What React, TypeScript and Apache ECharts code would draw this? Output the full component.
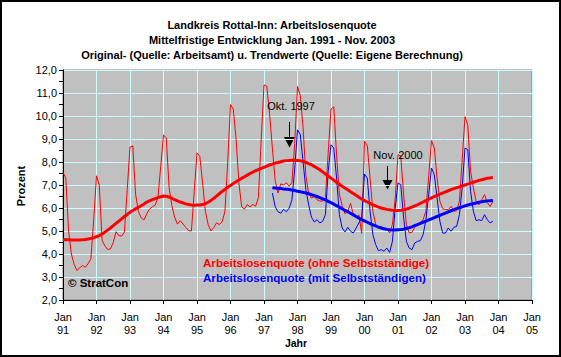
import React, { useEffect, useRef } from 'react';
import * as echarts from 'echarts';

// Monthly values, Jan 1991 .. Nov 2003 (ohne Selbstständige)
const redMonthly = [
  7.55, 7.3, 5.0, 4.0, 3.55, 3.28, 3.4, 3.5, 3.42, 3.58, 3.8, 5.5,
  7.4, 7.0, 4.6, 4.35, 4.2, 4.22, 4.5, 4.97, 4.8, 4.78, 4.95, 6.8,
  8.65, 8.7, 6.6, 5.85, 5.58, 5.48, 5.75, 5.95, 6.05, 6.12, 6.45, 7.8,
  9.17, 9.05, 6.9, 6.1, 5.6, 5.3, 5.45, 5.3, 5.15, 5.02, 5.0, 6.7,
  8.4, 8.25, 7.1, 5.86, 5.28, 5.0, 5.15, 5.35, 5.28, 5.4, 5.85, 8.0,
  10.5, 10.3, 9.0, 7.1, 6.05, 5.95, 6.15, 6.05, 6.15, 6.08, 6.45, 9.0,
  11.35, 11.3, 10.1, 8.6, 7.2, 6.65, 7.05, 7.0, 7.1, 6.95, 7.1, 8.8,
  11.28, 10.9, 9.5, 7.4, 6.65, 6.43, 6.5, 6.36, 6.3, 6.3, 6.45, 8.4,
  10.3, 10.4, 8.3, 6.6, 6.1, 5.75, 5.86, 6.2, 5.72, 5.57, 5.7, 4.9,
  8.9, 8.72, 7.3, 5.86, 5.28, 5.13, 5.2, 5.06, 5.1, 4.92, 5.28, 6.4,
  8.32, 8.25, 6.6, 5.28, 4.92, 4.94, 5.16, 5.28, 5.35, 5.5, 5.86, 7.4,
  8.93, 8.61, 7.3, 6.29, 5.97, 5.93, 5.93, 6.07, 5.86, 5.88, 6.29, 8.1,
  9.97, 9.6, 7.6, 6.87, 6.29, 6.14, 6.36, 6.58, 6.22, 6.07, 6.29,
];

// Trend, Jan 1991 .. Nov 2003 (ohne Selbstständige)
const redTrend = [
  4.63, 4.62, 4.62, 4.61, 4.61, 4.61, 4.61, 4.62, 4.63, 4.65, 4.68, 4.71,
  4.75, 4.8, 4.87, 4.95, 5.04, 5.13, 5.23, 5.33, 5.43, 5.53, 5.63, 5.72,
  5.81, 5.89, 5.96, 6.03, 6.1, 6.17, 6.26, 6.31, 6.36, 6.41, 6.45, 6.49,
  6.52, 6.51, 6.48, 6.42, 6.36, 6.31, 6.26, 6.22, 6.18, 6.15, 6.13, 6.12,
  6.13, 6.13, 6.15, 6.19, 6.25, 6.33, 6.42, 6.52, 6.62, 6.72, 6.81, 6.9,
  6.98, 7.06, 7.14, 7.22, 7.29, 7.36, 7.43, 7.5, 7.56, 7.62, 7.67, 7.72,
  7.77, 7.82, 7.87, 7.91, 7.95, 7.98, 8.01, 8.04, 8.06, 8.07, 8.08, 8.08,
  8.07, 8.05, 8.02, 7.98, 7.93, 7.88, 7.81, 7.74, 7.66, 7.57, 7.48, 7.39,
  7.3, 7.21, 7.12, 7.03, 6.95, 6.87, 6.79, 6.71, 6.63, 6.55, 6.47, 6.39,
  6.32, 6.26, 6.2, 6.14, 6.09, 6.04, 6.0, 5.97, 5.94, 5.92, 5.9, 5.89,
  5.89, 5.9, 5.92, 5.95, 5.99, 6.04, 6.09, 6.14, 6.2, 6.26, 6.32, 6.38,
  6.44, 6.5, 6.55, 6.6, 6.65, 6.7, 6.75, 6.8, 6.84, 6.88, 6.92, 6.96,
  7.0, 7.04, 7.08, 7.12, 7.16, 7.2, 7.23, 7.26, 7.29, 7.31, 7.33,
];

// Blue series start in Apr 1997 (month index 75 from Jan 1991)
const blueStartMonth = 75;

const blueMonthly = [
  6.65, 6.06, 5.84, 5.77, 5.94, 5.84, 5.99, 6.35, 7.7,
  9.4, 9.2, 8.0, 6.8, 6.14, 5.6, 5.39, 5.49, 5.35, 5.42, 5.71, 7.6,
  8.75, 8.61, 7.3, 5.71, 5.13, 4.96, 5.16, 4.99, 4.91, 5.13, 5.35, 5.6,
  7.48, 7.3, 5.86, 4.84, 4.41, 4.14, 4.19, 4.12, 4.26, 4.07, 4.55, 6.0,
  7.09, 7.01, 5.6, 4.55, 4.26, 4.19, 4.48, 4.55, 4.58, 4.84, 5.49, 6.6,
  7.74, 7.45, 6.43, 5.42, 4.91, 4.91, 5.13, 4.99, 5.16, 5.2, 5.71, 6.9,
  8.61, 8.54, 6.72, 5.86, 5.45, 5.49, 5.45, 5.71, 5.49, 5.35, 5.42,
];

const blueTrend = [
  6.88, 6.87, 6.86, 6.85, 6.83, 6.82, 6.8, 6.78, 6.76,
  6.73, 6.71, 6.68, 6.65, 6.62, 6.58, 6.54, 6.5, 6.45, 6.4, 6.35, 6.29,
  6.23, 6.17, 6.1, 6.04, 5.97, 5.9, 5.84, 5.77, 5.7, 5.63, 5.56, 5.5,
  5.44, 5.38, 5.32, 5.27, 5.22, 5.17, 5.13, 5.1, 5.07, 5.05, 5.04, 5.04,
  5.05, 5.06, 5.08, 5.11, 5.14, 5.18, 5.23, 5.28, 5.33, 5.38, 5.43, 5.48,
  5.53, 5.58, 5.63, 5.68, 5.73, 5.78, 5.83, 5.88, 5.93, 5.97, 6.01, 6.05,
  6.09, 6.13, 6.16, 6.19, 6.22, 6.25, 6.27, 6.29, 6.31, 6.32, 6.33,
];

const yearLabels = ['91', '92', '93', '94', '95', '96', '97', '98', '99', '00', '01', '02', '03', '04', '05'];
const monthLabel = 'Jan';

const titleLines = [
  'Landkreis Rottal-Inn: Arbeitslosenquote',
  'Mittelfristige Entwicklung Jan. 1991 - Nov. 2003',
  'Original- (Quelle: Arbeitsamt) u. Trendwerte (Quelle: Eigene Berechnung)',
];
const legendLabels = [
  'Arbeitslosenquote (ohne Selbstständige)',
  'Arbeitslosenquote (mit Selbstständigen)',
];
const annotationLabels = ['Okt. 1997', 'Nov. 2000'];
const copyright = '© StratCon';
const yName = 'Prozent';
const xName = 'Jahr';

const FONT = "'Liberation Sans', Arial, Helvetica, sans-serif";

function arrow(x: number, yTop: number, yBase: number, yTip: number, half: number) {
  return {
    type: 'group',
    children: [
      {
        type: 'line',
        shape: { x1: x, y1: yTop, x2: x, y2: yBase + 1 },
        style: { stroke: '#000', lineWidth: 1 },
      },
      {
        type: 'polygon',
        shape: { points: [[x - half, yBase], [x + half, yBase], [x, yTip]] },
        style: { fill: '#000' },
      },
    ],
  };
}

export default function App() {
  const ref = useRef<HTMLDivElement>(null);

  useEffect(() => {
    document.body.style.margin = '0';
    const chart = echarts.init(ref.current!, null, { renderer: 'svg' });

    const redData = redMonthly.map((v, i) => [i, v]);
    const redTrendData = redTrend.map((v, i) => [i, v]);
    const blueData = blueMonthly.map((v, i) => [i + blueStartMonth, v]);
    const blueTrendData = blueTrend.map((v, i) => [i + blueStartMonth, v]);

    chart.setOption({
      animation: false,
      backgroundColor: '#FFFFFF',
      textStyle: { fontFamily: FONT },
      title: {
        text: titleLines.join('\n'),
        left: 267,
        top: 12,
        textAlign: 'center',
        textStyle: { fontSize: 11, fontWeight: 'bold', lineHeight: 15, color: '#000', fontFamily: FONT },
      },
      grid: {
        left: 63,
        right: 29,
        top: 70,
        bottom: 57,
        show: true,
        backgroundColor: '#C0C0C0',
        borderColor: '#808080',
        borderWidth: 1,
      },
      xAxis: {
        type: 'value',
        min: 0,
        max: 168,
        interval: 12,
        axisLine: { show: true, onZero: false, lineStyle: { color: '#000', width: 1 } },
        axisTick: { show: true, length: 4, lineStyle: { color: '#000' } },
        axisLabel: {
          color: '#000',
          fontSize: 11,
          lineHeight: 13.5,
          margin: 10,
          fontFamily: FONT,
          formatter: (v: number) => monthLabel + '\n' + yearLabels[Math.round(v / 12)],
        },
        splitLine: { show: true, lineStyle: { color: '#CCFFFF', width: 1 } },
      },
      yAxis: {
        type: 'value',
        min: 2,
        max: 12,
        interval: 1,
        axisLine: { show: true, lineStyle: { color: '#000', width: 1 } },
        axisTick: { show: true, length: 4, lineStyle: { color: '#000' } },
        minorTick: { show: true, splitNumber: 2, length: 4, lineStyle: { color: '#000' } },
        axisLabel: {
          color: '#000',
          fontSize: 11,
          margin: 6,
          fontFamily: FONT,
          formatter: (v: number) => v.toFixed(1).replace('.', ','),
        },
        splitLine: { show: true, lineStyle: { color: '#CCFFFF', width: 1 } },
      },
      series: [
        {
          type: 'line', data: redData, symbol: 'none', silent: true,
          lineStyle: { color: '#FF0000', width: 1 }, z: 2,
        },
        {
          type: 'line', data: blueData, symbol: 'none', silent: true,
          lineStyle: { color: '#0000FF', width: 1 }, z: 2,
        },
        {
          type: 'line', data: redTrendData, symbol: 'none', silent: true,
          lineStyle: { color: '#FF0000', width: 3 }, z: 3,
        },
        {
          type: 'line', data: blueTrendData, symbol: 'none', silent: true,
          lineStyle: { color: '#0000FF', width: 3 }, z: 3,
        },
      ],
      graphic: [
        {
          type: 'text', x: 296, y: 342.5,
          style: { text: xName, font: `bold 10.5px ${FONT}`, fill: '#000', align: 'center', verticalAlign: 'middle' },
        },
        {
          type: 'text', x: 21, y: 186, rotation: Math.PI / 2,
          style: { text: yName, font: `bold 11px ${FONT}`, fill: '#000', align: 'center', verticalAlign: 'middle' },
        },
        {
          type: 'text', x: 68, y: 283, z: 10,
          style: { text: copyright, font: `bold 11.5px ${FONT}`, fill: '#000', align: 'left', verticalAlign: 'middle' },
        },
        {
          type: 'text', x: 203, y: 262.5, z: 10,
          style: { text: legendLabels[0], font: `bold 11.6px ${FONT}`, fill: '#FF0000', align: 'left', verticalAlign: 'middle' },
        },
        {
          type: 'text', x: 203, y: 277.5, z: 10,
          style: { text: legendLabels[1], font: `bold 11.6px ${FONT}`, fill: '#0000FF', align: 'left', verticalAlign: 'middle' },
        },
        {
          type: 'text', x: 291, y: 106, z: 10,
          style: { text: annotationLabels[0], font: `11px ${FONT}`, fill: '#000', align: 'center', verticalAlign: 'middle' },
        },
        { ...arrow(289.5, 122, 137, 147.5, 5.5), z: 10 },
        {
          type: 'text', x: 398, y: 155, z: 10,
          style: { text: annotationLabels[1], font: `11px ${FONT}`, fill: '#000', align: 'center', verticalAlign: 'middle' },
        },
        { ...arrow(387.5, 166, 180, 189.5, 5), z: 10 },
        {
          type: 'rect', z: 20,
          shape: { x: 1, y: 1, width: 559, height: 355 },
          style: { fill: 'none', stroke: '#000', lineWidth: 2 },
        },
      ],
    });

    return () => chart.dispose();
  }, []);

  return <div ref={ref} style={{ width: 561, height: 357 }} />;
}
